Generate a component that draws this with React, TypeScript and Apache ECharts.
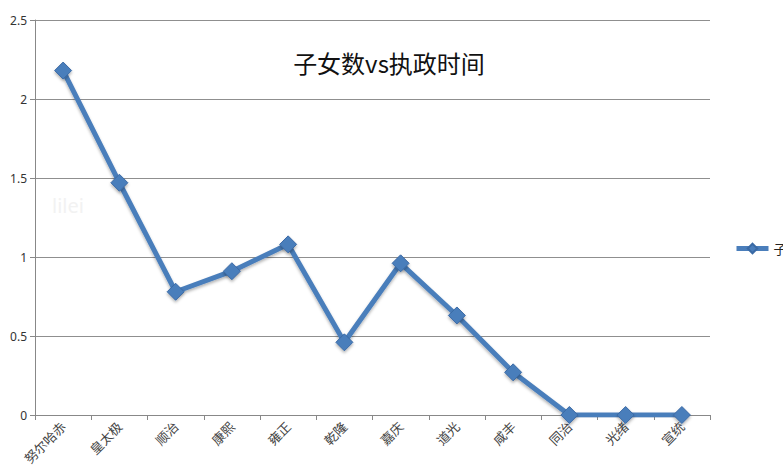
import React, { useEffect, useRef } from "react";
import * as echarts from "echarts";

const categories = ["努尔哈赤", "皇太极", "顺治", "康熙", "雍正", "乾隆", "嘉庆", "道光", "咸丰", "同治", "光绪", "宣统"];
const childrenValues = [2.18, 1.47, 0.78, 0.91, 1.08, 0.46, 0.96, 0.63, 0.27, 0, 0, 0];
const seriesName = "子女数vs执政时间";
const titleText = "子女数vs执政时间";

export default function App() {
  const ref = useRef<HTMLDivElement>(null);
  useEffect(() => {
    if (!ref.current) return;
    const chart = echarts.init(ref.current, null, { renderer: "svg" });
    chart.setOption({
      animation: false,
      backgroundColor: "#ffffff",
      title: {
        text: titleText,
        left: 384,
        top: 45,
        textAlign: "center",
        textStyle: { fontFamily: "Noto Sans CJK SC", fontSize: 24, fontWeight: "normal", color: "#111" },
      },
      graphic: [
        {
          type: "text",
          left: 52,
          top: 195,
          style: { text: "lilei", fontSize: 20, fill: "#f2f2f2", fontFamily: "Noto Sans" },
        },
      ],
      legend: {
        left: 729,
        top: 237,
        itemWidth: 32,
        itemHeight: 12,
        itemGap: 4,
        lineStyle: { width: 5, color: "#4a7ebb" },
        textStyle: { fontFamily: "Noto Sans CJK SC", fontSize: 13, color: "#222" },
        data: [seriesName],
      },
      grid: { left: 35, right: 73, top: 20, bottom: 61, containLabel: false },
      xAxis: {
        type: "category",
        data: categories,
        boundaryGap: true,
        axisLine: { lineStyle: { color: "#888", width: 1 } },
        axisTick: { show: true, length: 5, alignWithLabel: false, lineStyle: { color: "#888" } },
        axisLabel: {
          rotate: 45,
          interval: 0,
          margin: 9,
          fontFamily: "Noto Sans CJK SC",
          fontSize: 13,
          color: "#444",
        },
      },
      yAxis: {
        type: "value",
        min: 0,
        max: 2.5,
        interval: 0.5,
        axisLine: { show: true, lineStyle: { color: "#888", width: 1 } },
        axisTick: { show: true, length: 5, lineStyle: { color: "#888" } },
        axisLabel: { fontFamily: "Noto Sans", fontSize: 12, color: "#333", margin: 8 },
        splitLine: { lineStyle: { color: "#8f8f8f", width: 1 } },
      },
      series: [
        {
          name: seriesName,
          type: "line",
          data: childrenValues,
          symbol: "diamond",
          symbolSize: 17,
          lineStyle: {
            color: "#4a7ebb",
            width: 5,
            shadowColor: "rgba(0,0,0,0.3)",
            shadowBlur: 3,
            shadowOffsetY: 2,
          },
          itemStyle: {
            color: "#4a7ebb",
            borderColor: "#3a6aa5",
            borderWidth: 1,
            shadowColor: "rgba(0,0,0,0.3)",
            shadowBlur: 3,
            shadowOffsetY: 2,
          },
        },
      ],
    });
    return () => chart.dispose();
  }, []);
  return (
    <div
      ref={ref}
      style={{ position: "fixed", left: 0, top: 0, width: 783, height: 476 }}
    />
  );
}
